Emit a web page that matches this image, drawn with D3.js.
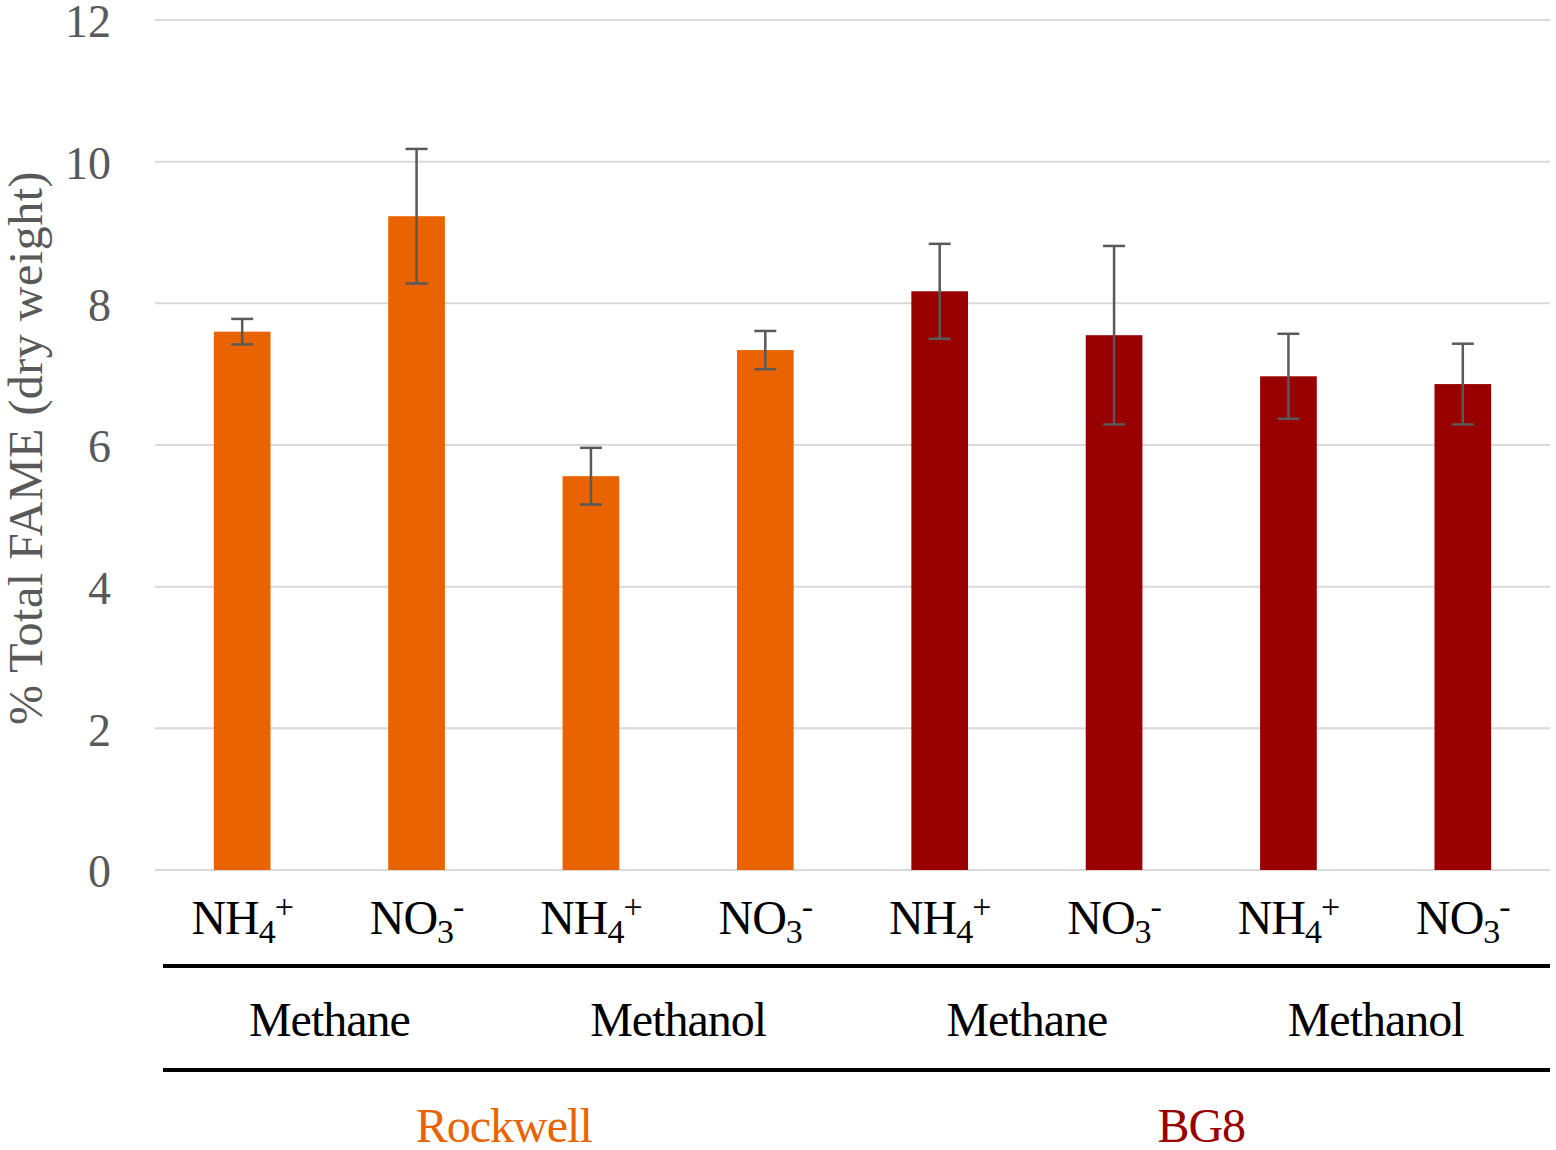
<!DOCTYPE html>
<html>
<head>
<style>
  body{
    margin: 0;
    background: white;
    font-family: 'Liberation Serif', 'Times New Roman', serif;
  }
</style>
</head>
<body>
<svg id='svgVis'></svg>

<script src="https://cdn.jsdelivr.net/npm/d3@7/dist/d3.min.js"></script>
<script>

// data
var ions = ['NH4+', 'NO3-', 'NH4+', 'NO3-', 'NH4+', 'NO3-', 'NH4+', 'NO3-'];
var substrates = ['Methane', 'Methanol', 'Methane', 'Methanol'];
var strains = ['Rockwell', 'BG8'];
var values = [7.6, 9.23, 5.56, 7.34, 8.17, 7.55, 6.97, 6.86];
var errors = [0.18, 0.95, 0.4, 0.27, 0.67, 1.26, 0.6, 0.57];
var yTicks = [0, 2, 4, 6, 8, 10, 12];

var strainColors = {'Rockwell': '#E96400', 'BG8': '#990000'};

var width = 1556,
    height = 1150;

var margin = {top: 20, right: 6, bottom: 280, left: 155};

var svg = d3.select('#svgVis')
    .attr('width', width)
    .attr('height', height);

var bars = values.map(function(v, i) {
  return {
    i: i,
    ion: ions[i],
    value: v,
    err: errors[i],
    strain: strains[Math.floor(i / 4)]
  };
});

var x = d3.scaleBand()
    .domain(d3.range(values.length))
    .range([margin.left, width - margin.right])
    .paddingInner(0.675)
    .paddingOuter(0.3375);

var y = d3.scaleLinear()
    .domain([0, 12])
    .range([height - margin.bottom, margin.top]);

// gridlines
svg.append('g')
  .selectAll('line')
  .data(yTicks)
  .enter()
  .append('line')
  .attr('x1', margin.left)
  .attr('x2', width - margin.right)
  .attr('y1', function(d) { return y(d); })
  .attr('y2', function(d) { return y(d); })
  .style('stroke', '#d9d9d9')
  .style('stroke-width', 2);

// y axis labels
var yAxis = d3.axisLeft(y)
    .tickValues(yTicks)
    .tickSize(0)
    .tickPadding(0);

var yG = svg.append('g')
    .attr('transform', 'translate(111,2)')
    .call(yAxis);

yG.select('.domain').remove();
yG.selectAll('text')
  .style('font-family', "'Liberation Serif', serif")
  .style('font-size', '46px')
  .style('fill', '#595959');

svg.append('text')
  .attr('transform', 'translate(42,' + (y(6) + 3) + ') rotate(-90)')
  .attr('text-anchor', 'middle')
  .style('font-size', '48px')
  .style('letter-spacing', '0.5px')
  .style('fill', '#595959')
  .text('% Total FAME (dry weight)');

// bars
svg.append('g')
  .selectAll('rect')
  .data(bars)
  .enter()
  .append('rect')
  .attr('x', function(d) { return x(d.i); })
  .attr('width', x.bandwidth())
  .attr('y', function(d) { return y(d.value); })
  .attr('height', function(d) { return y(0) - y(d.value); })
  .style('fill', function(d) { return strainColors[d.strain]; });

// error bars
var errG = svg.append('g')
  .selectAll('g')
  .data(bars)
  .enter()
  .append('g')
  .attr('transform', function(d) { return 'translate(' + (x(d.i) + x.bandwidth() / 2) + ',0)'; })
  .style('stroke', '#595959')
  .style('stroke-width', 2.5);

errG.append('line')
  .attr('y1', function(d) { return y(d.value + d.err); })
  .attr('y2', function(d) { return y(d.value - d.err); });

errG.append('line')
  .attr('x1', -11).attr('x2', 11)
  .attr('y1', function(d) { return y(d.value + d.err); })
  .attr('y2', function(d) { return y(d.value + d.err); });

errG.append('line')
  .attr('x1', -11).attr('x2', 11)
  .attr('y1', function(d) { return y(d.value - d.err); })
  .attr('y2', function(d) { return y(d.value - d.err); });

// ion labels with sub / superscripts
var ionText = svg.append('g')
  .selectAll('text')
  .data(bars)
  .enter()
  .append('text')
  .attr('x', function(d) { return x(d.i) + x.bandwidth() / 2; })
  .attr('y', 934)
  .attr('text-anchor', 'middle')
  .style('font-size', '48px')
  .style('fill', '#000')
  .style('letter-spacing', '-1px');

ionText.each(function(d) {
  var t = d3.select(this);
  var base = d.ion.slice(0, 2);
  var sub = d.ion.slice(2, 3);
  var sup = d.ion.slice(3);
  t.append('tspan').text(base);
  t.append('tspan').attr('dy', 9).style('font-size', '34px').text(sub);
  t.append('tspan').attr('dy', -25).style('font-size', '34px').text(sup);
});

// bracket lines
var lineLeft = 163;
[966, 1070].forEach(function(ly) {
  svg.append('line')
    .attr('x1', lineLeft)
    .attr('x2', width - 6)
    .attr('y1', ly)
    .attr('y2', ly)
    .style('stroke', '#000')
    .style('stroke-width', 4);
});

// substrate labels
svg.append('g')
  .selectAll('text')
  .data(substrates)
  .enter()
  .append('text')
  .attr('x', function(d, i) {
    return (x(i * 2) + x(i * 2 + 1) + x.bandwidth()) / 2;
  })
  .attr('y', 1036)
  .attr('text-anchor', 'middle')
  .style('font-size', '48px')
  .style('letter-spacing', '-1px')
  .style('fill', '#000')
  .text(function(d) { return d; });

// strain labels
svg.append('g')
  .selectAll('text')
  .data(strains)
  .enter()
  .append('text')
  .attr('x', function(d, i) {
    return (x(i * 4) + x(i * 4 + 3) + x.bandwidth()) / 2;
  })
  .attr('y', 1142)
  .attr('text-anchor', 'middle')
  .style('font-size', '48px')
  .style('letter-spacing', '-1px')
  .style('fill', function(d) { return strainColors[d]; })
  .text(function(d) { return d; });

</script>
</body>
</html>
